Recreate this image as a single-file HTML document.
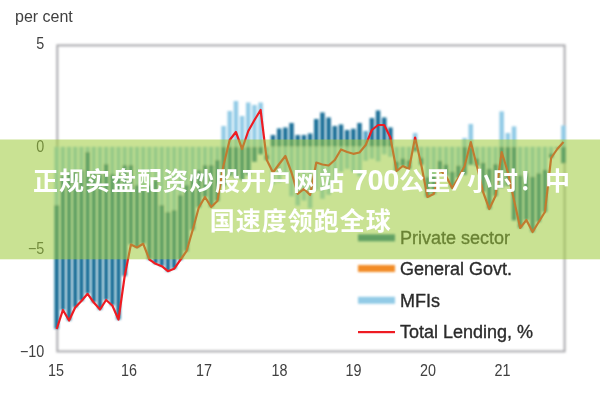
<!DOCTYPE html>
<html lang="zh-CN">
<head>
<meta charset="utf-8">
<title>chart</title>
<style>
html,body{margin:0;padding:0;background:#fff;}
body{width:600px;height:400px;position:relative;overflow:hidden;font-family:"Liberation Sans","Noto Sans CJK SC",sans-serif;}
svg{position:absolute;left:0;top:0;display:block;}
svg text.lg{fill:#2c2c2c;stroke:#2c2c2c;stroke-width:0.35px;}
svg text{font-family:"Liberation Sans",sans-serif;fill:#404040;}
.cap{position:absolute;left:2px;top:139px;transform:translateY(-0.1px);width:600px;height:120px;box-sizing:border-box;padding:23px 0 0 0;text-align:center;color:#fff;font-weight:bold;font-size:25px;letter-spacing:1px;word-spacing:-1.2px;line-height:39.5px;white-space:nowrap;font-family:"Liberation Sans","Noto Sans CJK SC",sans-serif;}
.cap .d{font-size:29px;letter-spacing:-0.3px;line-height:0;}
.cap .l2{position:relative;left:-1.3px;}
.cap .s{display:inline-block;transform:skewX(-16deg) scaleX(1.15);margin:0 4px;}
</style>
</head>
<body>
<svg width="600" height="400" viewBox="0 0 600 400">
<defs><filter id="b" x="-5%" y="-5%" width="110%" height="110%"><feGaussianBlur stdDeviation="0.9"/></filter><filter id="b2" x="-5%" y="-5%" width="110%" height="110%"><feGaussianBlur stdDeviation="0.7"/></filter></defs>
<g filter="url(#b)">
<rect x="57.3" y="45.4" width="507.3" height="306" fill="none" stroke="#aaaaae" stroke-width="2"/>
<rect x="54.45" y="146.80" width="4.5" height="58.20" fill="#92cbe6"/>
<rect x="54.45" y="205.00" width="4.5" height="124.00" fill="#1a7098"/>
<rect x="60.63" y="146.80" width="4.5" height="29.20" fill="#92cbe6"/>
<rect x="60.63" y="176.00" width="4.5" height="134.00" fill="#1a7098"/>
<rect x="66.81" y="146.80" width="4.5" height="25.20" fill="#92cbe6"/>
<rect x="66.81" y="172.00" width="4.5" height="148.50" fill="#1a7098"/>
<rect x="72.99" y="146.80" width="4.5" height="25.20" fill="#92cbe6"/>
<rect x="72.99" y="172.00" width="4.5" height="135.50" fill="#1a7098"/>
<rect x="79.17" y="146.80" width="4.5" height="23.20" fill="#92cbe6"/>
<rect x="79.17" y="170.00" width="4.5" height="131.00" fill="#1a7098"/>
<rect x="85.35" y="146.80" width="4.5" height="5.20" fill="#92cbe6"/>
<rect x="85.35" y="152.00" width="4.5" height="141.75" fill="#1a7098"/>
<rect x="91.53" y="146.80" width="4.5" height="25.20" fill="#92cbe6"/>
<rect x="91.53" y="172.00" width="4.5" height="130.50" fill="#1a7098"/>
<rect x="97.71" y="146.80" width="4.5" height="27.20" fill="#92cbe6"/>
<rect x="97.71" y="174.00" width="4.5" height="135.50" fill="#1a7098"/>
<rect x="103.89" y="146.80" width="4.5" height="17.20" fill="#92cbe6"/>
<rect x="103.89" y="164.00" width="4.5" height="136.00" fill="#1a7098"/>
<rect x="110.07" y="146.80" width="4.5" height="27.20" fill="#92cbe6"/>
<rect x="110.07" y="174.00" width="4.5" height="131.50" fill="#1a7098"/>
<rect x="116.25" y="146.80" width="4.5" height="27.20" fill="#92cbe6"/>
<rect x="116.25" y="174.00" width="4.5" height="145.50" fill="#1a7098"/>
<rect x="122.43" y="146.80" width="4.5" height="18.20" fill="#92cbe6"/>
<rect x="122.43" y="165.00" width="4.5" height="111.00" fill="#1a7098"/>
<rect x="128.61" y="146.80" width="4.5" height="18.20" fill="#92cbe6"/>
<rect x="128.61" y="165.00" width="4.5" height="79.50" fill="#1a7098"/>
<rect x="134.79" y="146.80" width="4.5" height="38.20" fill="#92cbe6"/>
<rect x="134.79" y="185.00" width="4.5" height="62.50" fill="#1a7098"/>
<rect x="140.97" y="146.80" width="4.5" height="43.20" fill="#92cbe6"/>
<rect x="140.97" y="190.00" width="4.5" height="53.75" fill="#1a7098"/>
<rect x="147.15" y="146.80" width="4.5" height="38.20" fill="#92cbe6"/>
<rect x="147.15" y="185.00" width="4.5" height="74.50" fill="#1a7098"/>
<rect x="153.33" y="146.80" width="4.5" height="33.20" fill="#92cbe6"/>
<rect x="153.33" y="180.00" width="4.5" height="83.75" fill="#1a7098"/>
<rect x="159.51" y="146.80" width="4.5" height="58.20" fill="#92cbe6"/>
<rect x="159.51" y="205.00" width="4.5" height="61.25" fill="#1a7098"/>
<rect x="165.69" y="146.80" width="4.5" height="65.20" fill="#92cbe6"/>
<rect x="165.69" y="212.00" width="4.5" height="59.25" fill="#1a7098"/>
<rect x="171.87" y="146.80" width="4.5" height="63.20" fill="#92cbe6"/>
<rect x="171.87" y="210.00" width="4.5" height="58.75" fill="#1a7098"/>
<rect x="178.05" y="146.80" width="4.5" height="48.20" fill="#92cbe6"/>
<rect x="178.05" y="195.00" width="4.5" height="65.00" fill="#1a7098"/>
<rect x="184.23" y="146.80" width="4.5" height="38.20" fill="#92cbe6"/>
<rect x="184.23" y="185.00" width="4.5" height="66.25" fill="#1a7098"/>
<rect x="190.41" y="146.80" width="4.5" height="28.20" fill="#92cbe6"/>
<rect x="190.41" y="175.00" width="4.5" height="55.00" fill="#1a7098"/>
<rect x="196.59" y="146.80" width="4.5" height="23.20" fill="#92cbe6"/>
<rect x="196.59" y="170.00" width="4.5" height="37.50" fill="#1a7098"/>
<rect x="202.77" y="146.80" width="4.5" height="18.20" fill="#92cbe6"/>
<rect x="202.77" y="165.00" width="4.5" height="32.00" fill="#1a7098"/>
<rect x="208.95" y="146.80" width="4.5" height="18.20" fill="#92cbe6"/>
<rect x="208.95" y="165.00" width="4.5" height="42.00" fill="#1a7098"/>
<rect x="215.13" y="146.80" width="4.5" height="13.20" fill="#92cbe6"/>
<rect x="215.13" y="160.00" width="4.5" height="41.00" fill="#1a7098"/>
<rect x="221.31" y="126.00" width="4.5" height="20.80" fill="#92cbe6"/>
<rect x="221.31" y="146.80" width="4.5" height="39.00" fill="#1a7098"/>
<rect x="227.49" y="111.00" width="4.5" height="35.80" fill="#92cbe6"/>
<rect x="227.49" y="146.80" width="4.5" height="29.00" fill="#1a7098"/>
<rect x="233.67" y="101.00" width="4.5" height="45.80" fill="#92cbe6"/>
<rect x="233.67" y="146.80" width="4.5" height="31.00" fill="#1a7098"/>
<rect x="239.85" y="116.00" width="4.5" height="30.80" fill="#92cbe6"/>
<rect x="239.85" y="146.80" width="4.5" height="33.00" fill="#1a7098"/>
<rect x="246.03" y="102.50" width="4.5" height="44.30" fill="#92cbe6"/>
<rect x="246.03" y="146.80" width="4.5" height="28.50" fill="#1a7098"/>
<rect x="252.21" y="105.00" width="4.5" height="41.80" fill="#92cbe6"/>
<rect x="252.21" y="146.80" width="4.5" height="15.00" fill="#1a7098"/>
<rect x="258.39" y="102.50" width="4.5" height="44.30" fill="#92cbe6"/>
<rect x="258.39" y="146.80" width="4.5" height="7.50" fill="#1a7098"/>
<rect x="264.57" y="146.80" width="4.5" height="7.92" fill="#92cbe6"/>
<rect x="264.57" y="154.72" width="4.5" height="5.28" fill="#1a7098"/>
<rect x="270.75" y="135.00" width="4.5" height="11.80" fill="#1a7098"/>
<rect x="270.75" y="146.80" width="4.5" height="37.50" fill="#92cbe6"/>
<rect x="276.93" y="128.50" width="4.5" height="18.30" fill="#1a7098"/>
<rect x="276.93" y="146.80" width="4.5" height="35.50" fill="#92cbe6"/>
<rect x="283.11" y="127.50" width="4.5" height="19.30" fill="#1a7098"/>
<rect x="283.11" y="146.80" width="4.5" height="28.50" fill="#92cbe6"/>
<rect x="289.29" y="123.00" width="4.5" height="23.80" fill="#1a7098"/>
<rect x="289.29" y="146.80" width="4.5" height="49.50" fill="#92cbe6"/>
<rect x="295.47" y="135.00" width="4.5" height="11.80" fill="#1a7098"/>
<rect x="295.47" y="146.80" width="4.5" height="58.75" fill="#92cbe6"/>
<rect x="301.65" y="135.00" width="4.5" height="11.80" fill="#1a7098"/>
<rect x="301.65" y="146.80" width="4.5" height="53.75" fill="#92cbe6"/>
<rect x="307.83" y="133.50" width="4.5" height="13.30" fill="#1a7098"/>
<rect x="307.83" y="146.80" width="4.5" height="61.50" fill="#92cbe6"/>
<rect x="314.01" y="119.00" width="4.5" height="27.80" fill="#1a7098"/>
<rect x="314.01" y="146.80" width="4.5" height="43.50" fill="#92cbe6"/>
<rect x="320.19" y="112.50" width="4.5" height="34.30" fill="#1a7098"/>
<rect x="320.19" y="146.80" width="4.5" height="52.00" fill="#92cbe6"/>
<rect x="326.37" y="117.50" width="4.5" height="29.30" fill="#1a7098"/>
<rect x="326.37" y="146.80" width="4.5" height="48.00" fill="#92cbe6"/>
<rect x="332.55" y="126.00" width="4.5" height="20.80" fill="#1a7098"/>
<rect x="332.55" y="146.80" width="4.5" height="34.00" fill="#92cbe6"/>
<rect x="338.73" y="124.50" width="4.5" height="22.30" fill="#1a7098"/>
<rect x="338.73" y="146.80" width="4.5" height="25.00" fill="#92cbe6"/>
<rect x="344.91" y="130.00" width="4.5" height="16.80" fill="#1a7098"/>
<rect x="344.91" y="146.80" width="4.5" height="22.00" fill="#92cbe6"/>
<rect x="351.09" y="128.75" width="4.5" height="18.05" fill="#1a7098"/>
<rect x="351.09" y="146.80" width="4.5" height="25.00" fill="#92cbe6"/>
<rect x="357.27" y="123.00" width="4.5" height="23.80" fill="#1a7098"/>
<rect x="357.27" y="146.80" width="4.5" height="29.50" fill="#92cbe6"/>
<rect x="363.45" y="131.00" width="4.5" height="15.80" fill="#5aa5c8"/>
<rect x="363.45" y="146.80" width="4.5" height="14.00" fill="#92cbe6"/>
<rect x="369.63" y="118.00" width="4.5" height="28.80" fill="#1a7098"/>
<rect x="369.63" y="146.80" width="4.5" height="12.00" fill="#92cbe6"/>
<rect x="375.81" y="110.50" width="4.5" height="36.30" fill="#1a7098"/>
<rect x="375.81" y="146.80" width="4.5" height="14.50" fill="#92cbe6"/>
<rect x="381.99" y="117.50" width="4.5" height="29.30" fill="#1a7098"/>
<rect x="381.99" y="146.80" width="4.5" height="7.50" fill="#92cbe6"/>
<rect x="388.17" y="127.50" width="4.5" height="19.30" fill="#1a7098"/>
<rect x="388.17" y="146.80" width="4.5" height="10.00" fill="#92cbe6"/>
<rect x="394.35" y="146.80" width="4.5" height="14.52" fill="#92cbe6"/>
<rect x="394.35" y="161.32" width="4.5" height="9.68" fill="#1a7098"/>
<rect x="400.53" y="146.80" width="4.5" height="11.52" fill="#92cbe6"/>
<rect x="400.53" y="158.32" width="4.5" height="7.68" fill="#1a7098"/>
<rect x="406.71" y="146.80" width="4.5" height="13.32" fill="#92cbe6"/>
<rect x="406.71" y="160.12" width="4.5" height="8.88" fill="#1a7098"/>
<rect x="412.89" y="133.00" width="4.5" height="13.80" fill="#92cbe6"/>
<rect x="412.89" y="146.80" width="4.5" height="4.50" fill="#1a7098"/>
<rect x="419.07" y="146.80" width="4.5" height="10.92" fill="#92cbe6"/>
<rect x="419.07" y="157.72" width="4.5" height="7.28" fill="#1a7098"/>
<rect x="425.25" y="146.80" width="4.5" height="30.12" fill="#92cbe6"/>
<rect x="425.25" y="176.92" width="4.5" height="20.08" fill="#1a7098"/>
<rect x="431.43" y="146.80" width="4.5" height="28.32" fill="#92cbe6"/>
<rect x="431.43" y="175.12" width="4.5" height="18.88" fill="#1a7098"/>
<rect x="437.61" y="146.80" width="4.5" height="13.92" fill="#92cbe6"/>
<rect x="437.61" y="160.72" width="4.5" height="9.28" fill="#1a7098"/>
<rect x="443.79" y="146.80" width="4.5" height="17.52" fill="#92cbe6"/>
<rect x="443.79" y="164.32" width="4.5" height="11.68" fill="#1a7098"/>
<rect x="449.97" y="146.80" width="4.5" height="24.72" fill="#92cbe6"/>
<rect x="449.97" y="171.52" width="4.5" height="16.48" fill="#1a7098"/>
<rect x="456.15" y="146.80" width="4.5" height="18.72" fill="#92cbe6"/>
<rect x="456.15" y="165.52" width="4.5" height="12.48" fill="#1a7098"/>
<rect x="462.33" y="138.00" width="4.5" height="8.80" fill="#92cbe6"/>
<rect x="462.33" y="146.80" width="4.5" height="28.00" fill="#1a7098"/>
<rect x="468.51" y="124.00" width="4.5" height="22.80" fill="#92cbe6"/>
<rect x="468.51" y="146.80" width="4.5" height="18.00" fill="#1a7098"/>
<rect x="474.69" y="146.80" width="4.5" height="11.52" fill="#92cbe6"/>
<rect x="474.69" y="158.32" width="4.5" height="7.68" fill="#1a7098"/>
<rect x="480.87" y="146.80" width="4.5" height="15.82" fill="#92cbe6"/>
<rect x="480.87" y="162.62" width="4.5" height="29.38" fill="#1a7098"/>
<rect x="487.05" y="146.80" width="4.5" height="21.77" fill="#92cbe6"/>
<rect x="487.05" y="168.57" width="4.5" height="40.43" fill="#1a7098"/>
<rect x="493.23" y="146.80" width="4.5" height="17.22" fill="#92cbe6"/>
<rect x="493.23" y="164.02" width="4.5" height="31.98" fill="#1a7098"/>
<rect x="499.41" y="111.40" width="4.5" height="35.40" fill="#92cbe6"/>
<rect x="499.41" y="146.80" width="4.5" height="40.60" fill="#1a7098"/>
<rect x="505.59" y="133.00" width="4.5" height="13.80" fill="#92cbe6"/>
<rect x="505.59" y="146.80" width="4.5" height="39.00" fill="#1a7098"/>
<rect x="511.77" y="126.40" width="4.5" height="20.40" fill="#92cbe6"/>
<rect x="511.77" y="146.80" width="4.5" height="73.60" fill="#1a7098"/>
<rect x="517.95" y="146.80" width="4.5" height="28.42" fill="#92cbe6"/>
<rect x="517.95" y="175.22" width="4.5" height="52.78" fill="#1a7098"/>
<rect x="524.13" y="146.80" width="4.5" height="25.62" fill="#92cbe6"/>
<rect x="524.13" y="172.42" width="4.5" height="47.58" fill="#1a7098"/>
<rect x="530.31" y="146.80" width="4.5" height="29.82" fill="#92cbe6"/>
<rect x="530.31" y="176.62" width="4.5" height="55.38" fill="#1a7098"/>
<rect x="536.49" y="146.80" width="4.5" height="26.32" fill="#92cbe6"/>
<rect x="536.49" y="173.12" width="4.5" height="48.88" fill="#1a7098"/>
<rect x="542.67" y="146.80" width="4.5" height="22.82" fill="#92cbe6"/>
<rect x="542.67" y="169.62" width="4.5" height="42.38" fill="#1a7098"/>
<rect x="548.85" y="146.80" width="4.5" height="6.72" fill="#92cbe6"/>
<rect x="548.85" y="153.52" width="4.5" height="4.48" fill="#1a7098"/>
<rect x="555.03" y="146.80" width="4.5" height="1.32" fill="#92cbe6"/>
<rect x="555.03" y="148.12" width="4.5" height="0.88" fill="#1a7098"/>
<rect x="561.21" y="125.50" width="4.5" height="21.30" fill="#92cbe6"/>
<rect x="561.21" y="146.80" width="4.5" height="16.50" fill="#1a7098"/>
<rect x="358" y="234.3" width="37" height="7" fill="#1a7098"/>
<rect x="358" y="265" width="37" height="7" fill="#f28c28"/>
<rect x="358" y="296.8" width="37" height="7" fill="#92cbe6"/>
</g>
<g filter="url(#b2)"><polyline points="56.7,329.0 62.9,310.0 69.1,320.5 75.2,307.5 81.4,301.0 87.6,293.8 93.8,302.5 100.0,309.5 106.1,300.0 112.3,305.5 118.5,319.5 124.7,276.0 130.9,244.5 137.0,247.5 143.2,243.8 149.4,259.5 155.6,263.8 161.8,266.2 167.9,271.2 174.1,268.8 180.3,260.0 186.5,251.2 192.7,230.0 198.8,207.5 205.0,197.0 211.2,207.0 217.4,201.0 223.6,165.0 229.7,140.0 235.9,132.0 242.1,149.0 248.3,131.0 254.5,120.0 260.6,110.0 266.8,160.0 273.0,172.5 279.2,164.0 285.4,156.0 291.5,172.5 297.7,193.8 303.9,188.8 310.1,195.0 316.3,162.5 322.4,164.5 328.6,165.5 334.8,160.0 341.0,149.5 347.2,152.0 353.3,153.8 359.5,152.5 365.7,145.0 371.9,130.0 378.1,125.0 384.2,125.0 390.4,137.5 396.6,171.0 402.8,166.0 409.0,169.0 415.1,137.5 421.3,165.0 427.5,197.0 433.7,194.0 439.9,170.0 446.0,176.0 452.2,188.0 458.4,178.0 464.6,166.0 470.8,142.0 476.9,166.0 483.1,192.0 489.3,209.0 495.5,196.0 501.7,152.0 507.8,172.0 514.0,200.0 520.2,228.0 526.4,220.0 532.6,232.0 538.7,222.0 544.9,212.0 551.1,158.0 557.3,149.0 563.5,142.0" fill="none" stroke="#ee1c24" stroke-width="2.2" stroke-linejoin="round"/>
<rect x="358" y="331" width="37" height="2.2" fill="#ee1c24"/>
<text x="15" y="21.8" font-size="16">per cent</text>
<text transform="translate(44.3,48.7) scale(0.91,1)" font-size="15.8" text-anchor="end">5</text>
<text transform="translate(44.3,151.5) scale(0.91,1)" font-size="15.8" text-anchor="end">0</text>
<text transform="translate(44.3,254.4) scale(0.91,1)" font-size="15.8" text-anchor="end">−5</text>
<text transform="translate(44.3,357.3) scale(0.91,1)" font-size="15.8" text-anchor="end">−10</text>
<text transform="translate(56.0,376) scale(0.91,1)" font-size="15.8" text-anchor="middle">15</text>
<text transform="translate(129.0,376) scale(0.91,1)" font-size="15.8" text-anchor="middle">16</text>
<text transform="translate(204.0,376) scale(0.91,1)" font-size="15.8" text-anchor="middle">17</text>
<text transform="translate(279.6,376) scale(0.91,1)" font-size="15.8" text-anchor="middle">18</text>
<text transform="translate(353.5,376) scale(0.91,1)" font-size="15.8" text-anchor="middle">19</text>
<text transform="translate(428.0,376) scale(0.91,1)" font-size="15.8" text-anchor="middle">20</text>
<text transform="translate(502.5,376) scale(0.91,1)" font-size="15.8" text-anchor="middle">21</text>
<text x="400" y="243.7" font-size="18" class="lg">Private sector</text>
<text x="400" y="274.5" font-size="18" class="lg">General Govt.</text>
<text x="400" y="307" font-size="18" class="lg">MFIs</text>
<text x="400" y="337.7" font-size="18" class="lg">Total Lending, %</text>
</g>
<rect x="0" y="139.5" width="600" height="119.8" fill="rgba(157,202,59,0.55)"/>
</svg>
<div class="cap">正规实盘配资炒股开户网站 <span class="d">700</span>公里<span class="s">/</span>小时！中<br><span class="l2">国速度领跑全球</span></div>
</body>
</html>
